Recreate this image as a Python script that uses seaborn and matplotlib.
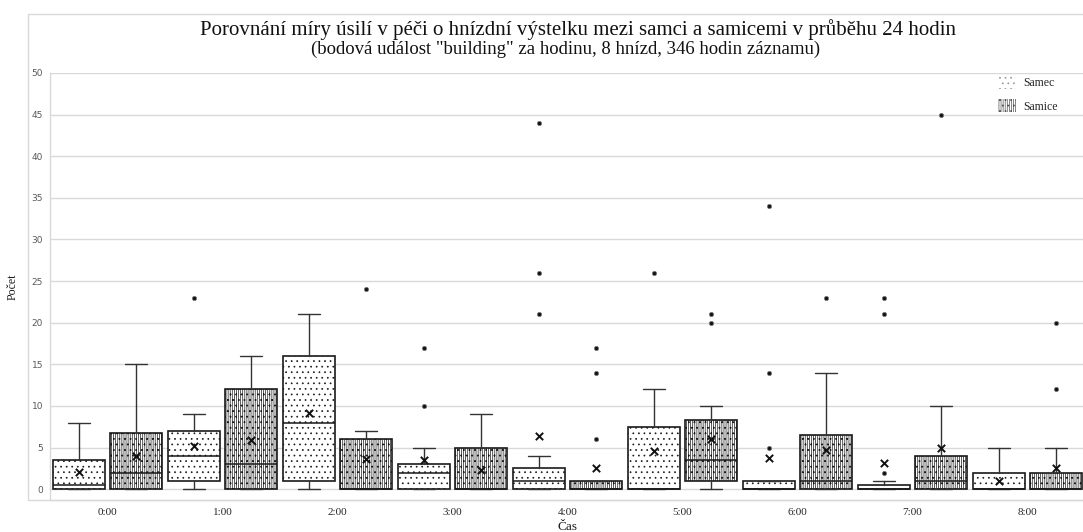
import numpy as np
import pandas as pd
import seaborn as sns
import matplotlib.pyplot as plt
from matplotlib.patches import Patch, Rectangle

# hodiny na ose x
casy = ['0:00', '1:00', '2:00', '3:00', '4:00', '5:00', '6:00', '7:00', '8:00']

# Samec - statistiky krabicovych grafu
samec_q1 = [0, 1, 1, 0, 0, 0, 0, 0, 0]
samec_med = [0.5, 4, 8, 2, 1, 0, 0, 0, 0]
samec_q3 = [3.5, 7, 16, 3, 2.5, 7.5, 1, 0.5, 2]
samec_min = [0, 0, 0, 0, 0, 0, 0, 0, 0]
samec_max = [8, 9, 21, 5, 4, 12, 1, 1, 5]
samec_prumer = [2.1, 5.2, 9.2, 3.5, 6.4, 4.6, 3.7, 3.2, 1.0]
samec_odlehle = [[], [23], [], [10, 17], [21, 26, 44], [26], [5, 14, 34], [2, 21, 23], []]

# Samice
samice_q1 = [0, 0, 0, 0, 0, 1, 0, 0, 0]
samice_med = [2, 3, 0, 0, 0, 3.5, 1, 1, 0]
samice_q3 = [6.8, 12, 6, 5, 1, 8.3, 6.5, 4, 2]
samice_min = [0, 0, 0, 0, 0, 0, 0, 0, 0]
samice_max = [15, 16, 7, 9, 1, 10, 14, 10, 5]
samice_prumer = [4.0, 5.9, 3.6, 2.3, 2.6, 6.0, 4.7, 4.9, 2.5]
samice_odlehle = [[], [], [24], [], [6, 14, 17], [20, 21], [23], [45], [12, 20]]

sns.set_theme(style='whitegrid')
plt.rcParams['hatch.linewidth'] = 0.5
serif = ['Liberation Serif', 'DejaVu Serif']

W, H = 1083, 532
fig = plt.figure(figsize=(W / 100, H / 100), dpi=100)
ax = fig.add_axes([50 / W, 32 / H, 1035 / W, 427 / H])

x = np.arange(len(casy))
posun = 0.245
vzor_samec = '...'
vzor_samice = '||||||||...'
skupiny = [
    (-posun, samec_q1, samec_med, samec_q3, samec_min, samec_max, samec_odlehle, vzor_samec),
    (posun, samice_q1, samice_med, samice_q3, samice_min, samice_max, samice_odlehle, vzor_samice),
]
for off, q1, med, q3, lo, hi, odl, hatch in skupiny:
    stats = [dict(q1=q1[i], med=med[i], q3=q3[i], whislo=lo[i], whishi=hi[i], fliers=odl[i])
             for i in range(len(casy))]
    ax.bxp(stats, positions=x + off, widths=0.45, capwidths=0.19, patch_artist=True,
           manage_ticks=False,
           boxprops=dict(facecolor='white', edgecolor='#1a1a1a', linewidth=1.2, hatch=hatch),
           medianprops=dict(color='#1a1a1a', linewidth=1.1),
           whiskerprops=dict(color='#333333', linewidth=1.0),
           capprops=dict(color='#333333', linewidth=1.0),
           flierprops=dict(marker='o', markersize=3, markerfacecolor='#111111',
                           markeredgecolor='#777777', markeredgewidth=0.6))

prumery = pd.DataFrame({
    'x': np.concatenate([x - posun, x + posun]),
    'prumer': samec_prumer + samice_prumer,
})
sns.scatterplot(data=prumery, x='x', y='prumer', marker='x', color='#111111', s=28,
                linewidth=1.4, ax=ax, zorder=5, legend=False)

ax.set_xlim(-0.5, 8.5)
ax.set_ylim(-1.3, 50)
ax.set_yticks(range(0, 51, 5))
ax.set_xticks(x)
ax.set_xticklabels(casy, fontfamily=serif, fontsize=8, color='#262626')
ax.tick_params(axis='y', labelsize=6.5, labelcolor='#595959', length=0, pad=5)
ax.tick_params(axis='x', length=0, pad=6)
ax.grid(axis='y', color='#d9d9d9', linewidth=1)
ax.grid(axis='x', visible=False)
for s in ['top', 'right']:
    ax.spines[s].set_visible(False)
for s in ['left', 'bottom']:
    ax.spines[s].set_color('#d9d9d9')
    ax.spines[s].set_linewidth(1)
ax.set_xlabel('Čas', fontfamily=serif, fontsize=9.5, labelpad=3, color='#1a1a1a')
ax.set_ylabel('Počet', fontfamily=serif, fontsize=8.5, labelpad=9, color='#1a1a1a')

fig.patches.append(Rectangle((28 / W, 1 - 500 / H), 1.1, (500 - 14) / H, transform=fig.transFigure,
                             fill=False, edgecolor='#d9d9d9', linewidth=1))

fig.text(578 / W, 1 - 30 / H,
         'Porovnání míry úsilí v péči o hnízdní výstelku mezi samci a samicemi v průběhu 24 hodin',
         ha='center', va='center', fontsize=15, fontfamily=serif, color='#111111')
fig.text(566 / W, 1 - 49 / H,
         '(bodová událost "building" za hodinu, 8 hnízd, 346 hodin záznamu)',
         ha='center', va='center', fontsize=13.5, fontfamily=serif, color='#111111')

handles = [
    Patch(facecolor='white', edgecolor='#999999', hatch=vzor_samec, linewidth=0),
    Patch(facecolor='white', edgecolor='#555555', hatch=vzor_samice, linewidth=0),
]
fig.legend(handles, ['Samec', 'Samice'], loc='upper right', bbox_to_anchor=(1068 / W, 1 - 65 / H),
           frameon=False, prop=dict(family=serif, size=8.5), handlelength=1.5, handleheight=1.4,
           labelspacing=0.8, handletextpad=0.6)

fig.savefig('out.png', dpi=100)
